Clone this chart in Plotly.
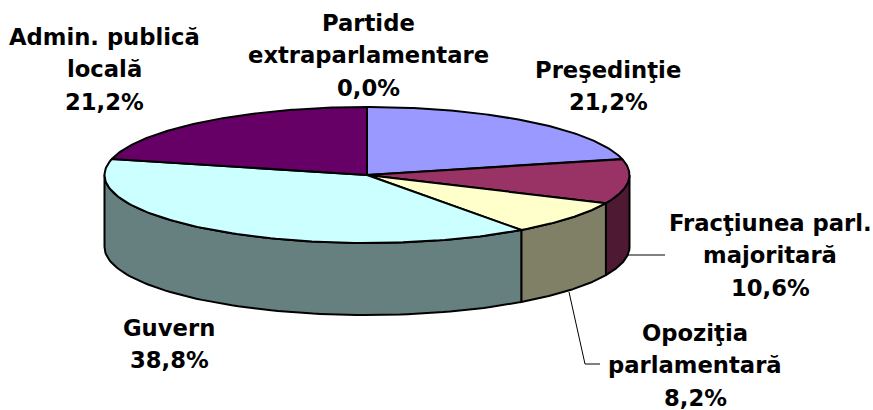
import numpy as np
import plotly.graph_objects as go

categories = ["Președinție", "Fracţiunea parl. majoritară", "Opoziţia parlamentară", "Guvern", "Admin. publică locală", "Partide extraparlamentare"]
values = [21.2, 10.6, 8.2, 38.8, 21.2, 0.0]
top_colors = ["#9999FF", "#993366", "#FFFFCC", "#CCFFFF", "#660066", "#FF8080"]
side_colors = ["#666699", "#4D1933", "#808066", "#668080", "#330033", "#804040"]
label_lines = [["Preşedinţie", "21,2%"], ["Fracţiunea parl.", "majoritară", "10,6%"], ["Opoziţia", "parlamentară", "8,2%"],
               ["Guvern", "38,8%"], ["Admin. publică", "locală", "21,2%"], ["Partide", "extraparlamentare", "0,0%"]]
label_x = [608, 770, 695, 169, 104, 368]
label_y = [70, 223, 333, 328, 37, 23]
LINE_STEP = 32.3

CX, CY, RX, RY, DEPTH = 367, 175, 262.5, 68, 72
fig = go.Figure()

def pt(deg):
    t = np.radians(deg)
    return CX + RX * np.sin(t), CY - RY * np.cos(t)

def add(xs, ys, fill):
    fig.add_trace(go.Scatter(x=xs, y=ys, mode="lines", fill="toself", fillcolor=fill,
                             line=dict(color="black", width=2), hoverinfo="skip", showlegend=False))

cum = np.concatenate([[0], np.cumsum(values)]) / sum(values) * 360
# side walls
for i in range(len(values)):
    a, b = max(cum[i], 0), cum[i + 1]
    if values[i] == 0:
        continue
    lo, hi = max(a, 90), min(b, 270)
    if lo < hi:
        d = np.linspace(lo, hi, 80)
        x, y = pt(d)
        add(list(x) + list(x[::-1]) + [x[0]], list(y) + list((y + DEPTH)[::-1]) + [y[0]], side_colors[i])
# top slices
for i in range(len(values)):
    if values[i] == 0:
        continue
    d = np.linspace(cum[i], cum[i + 1], 120)
    x, y = pt(d)
    add([CX] + list(x) + [CX], [CY] + list(y) + [CY], top_colors[i])

# leader lines
leader_x = [[628, 665], [569, 585, 600]]
leader_y = [[255, 255], [292, 364, 364]]
for lx, ly in zip(leader_x, leader_y):
    fig.add_trace(go.Scatter(x=lx, y=ly, mode="lines", line=dict(color="black", width=1),
                             hoverinfo="skip", showlegend=False))

for lines, x, y in zip(label_lines, label_x, label_y):
    for k, t in enumerate(lines):
        fig.add_annotation(x=x, y=y + k * LINE_STEP, text=t, showarrow=False, align="center",
                           font=dict(family="DejaVu Sans", size=22.7, color="black", weight="bold"))

fig.update_xaxes(range=[0, 873], visible=False, fixedrange=True)
fig.update_yaxes(range=[410, 0], visible=False, fixedrange=True)
fig.update_layout(width=873, height=410, margin=dict(l=0, r=0, t=0, b=0),
                  paper_bgcolor="white", plot_bgcolor="white", showlegend=False)
fig.write_html("out.html", config={"displayModeBar": False},
               post_script="document.body.style.margin='0';document.documentElement.style.overflow='hidden';")
